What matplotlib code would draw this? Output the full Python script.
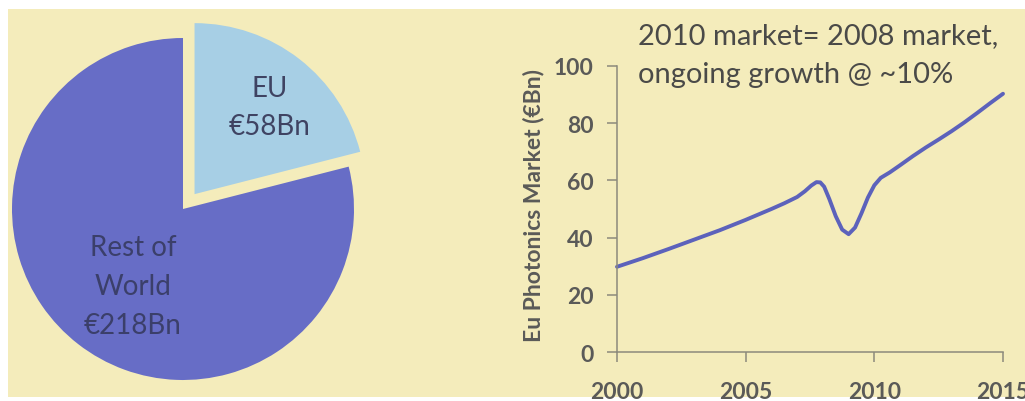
import matplotlib
matplotlib.use("Agg")
import matplotlib.pyplot as plt
from matplotlib.patches import Rectangle

plt.rcParams['font.family'] = ['Lato', 'DejaVu Sans']

# ---- data ----
pie_labels = ["EU\n€58Bn", "Rest of\nWorld\n€218Bn"]
pie_values = [58, 218]

years = [2000, 2001, 2002, 2003, 2004, 2005, 2006, 2006.5, 2007, 2007.3, 2007.55,
         2007.75, 2007.9, 2008.05, 2008.25, 2008.5, 2008.75, 2009.0, 2009.25,
         2009.5, 2009.75, 2010.0, 2010.25, 2010.6, 2011, 2011.5, 2012, 2012.5,
         2013, 2013.5, 2014, 2014.5, 2015]
market = [29.8, 32.8, 36.0, 39.3, 42.6, 46.2, 50.0, 52.0, 54.2, 56.2, 58.2,
          59.4, 59.3, 57.8, 53.5, 47.5, 42.8, 41.2, 43.5,
          48.5, 54.0, 58.3, 60.9, 62.8, 65.3, 68.5, 71.5, 74.3,
          77.2, 80.3, 83.6, 87.0, 90.3]

x_ticks = [2000, 2005, 2010, 2015]
y_ticks = [0, 20, 40, 60, 80, 100]
title_text = "2010 market= 2008 market,\nongoing growth @ ~10%"
y_label = "Eu Photonics Market (€Bn)"

W, H = 1025, 402
fig = plt.figure(figsize=(W / 100, H / 100), dpi=100, facecolor="white")

def fx(px):
    return px / W

def fy(py):
    return 1 - py / H

# yellow slide background
fig.patches.append(Rectangle((fx(8), fy(398)), fx(1025) - fx(8), fy(10) - fy(398),
                             transform=fig.transFigure, facecolor="#f4ecbb",
                             edgecolor="none", zorder=-10))

# ---- pie ----
R = 171
cx, cy = 183, 210
half = 1.17 * R
axp = fig.add_axes([fx(cx - half), fy(cy + half), 2 * half / W, 2 * half / H])
axp.set_facecolor("none")
axp.pie(pie_values, colors=["#a7cfe5", "#676dc6"], startangle=90, counterclock=False,
        explode=[0.11, 0], radius=1.0, wedgeprops=dict(linewidth=0))
axp.set_xlim(-1.17, 1.17)
axp.set_ylim(-1.17, 1.17)
axp.set_aspect("equal")
axp.axis("off")

fig.text(fx(270), fy(108), pie_labels[0], ha="center", va="center", fontsize=20,
         color="#3f4362", linespacing=1.55)
fig.text(fx(133), fy(287), pie_labels[1], ha="center", va="center", fontsize=20,
         color="#3b3f6a", linespacing=1.6)

# ---- line chart ----
x0, x1 = 617, 1003
y0, y1 = 353, 67
ax = fig.add_axes([fx(x0), fy(y0), (x1 - x0) / W, (y0 - y1) / H])
ax.set_facecolor("none")
ax.plot(years, market, color="#5c62bb", linewidth=2.8, solid_capstyle="round",
        solid_joinstyle="round", clip_on=False)
ax.set_xlim(2000, 2015)
ax.set_ylim(0, 100)
ax.set_xticks(x_ticks)
ax.set_yticks(y_ticks)
for s in ["top", "right"]:
    ax.spines[s].set_visible(False)
for s in ["left", "bottom"]:
    ax.spines[s].set_color("#8c8a7c")
    ax.spines[s].set_linewidth(1.1)
ax.tick_params(axis="y", direction="out", length=7, width=1.1, color="#8c8a7c",
               labelsize=16.5, labelcolor="#5a5a58", pad=10)
ax.tick_params(axis="x", direction="out", length=7, width=1.1, color="#8c8a7c",
               labelsize=16.5, labelcolor="#5a5a58", pad=14)
for lab in ax.get_xticklabels() + ax.get_yticklabels():
    lab.set_fontweight("bold")
ax.set_ylabel(y_label, fontsize=16.5, fontweight="bold", color="#5a5a58")
ax.yaxis.set_label_coords((544 - x0) / (x1 - x0), (y0 - 206) / (y0 - y1))
fig.text(fx(638), fy(23), title_text, ha="left", va="top", fontsize=21,
         color="#4a4a48", linespacing=1.6)

fig.savefig("out.png", dpi=100, facecolor="white")
